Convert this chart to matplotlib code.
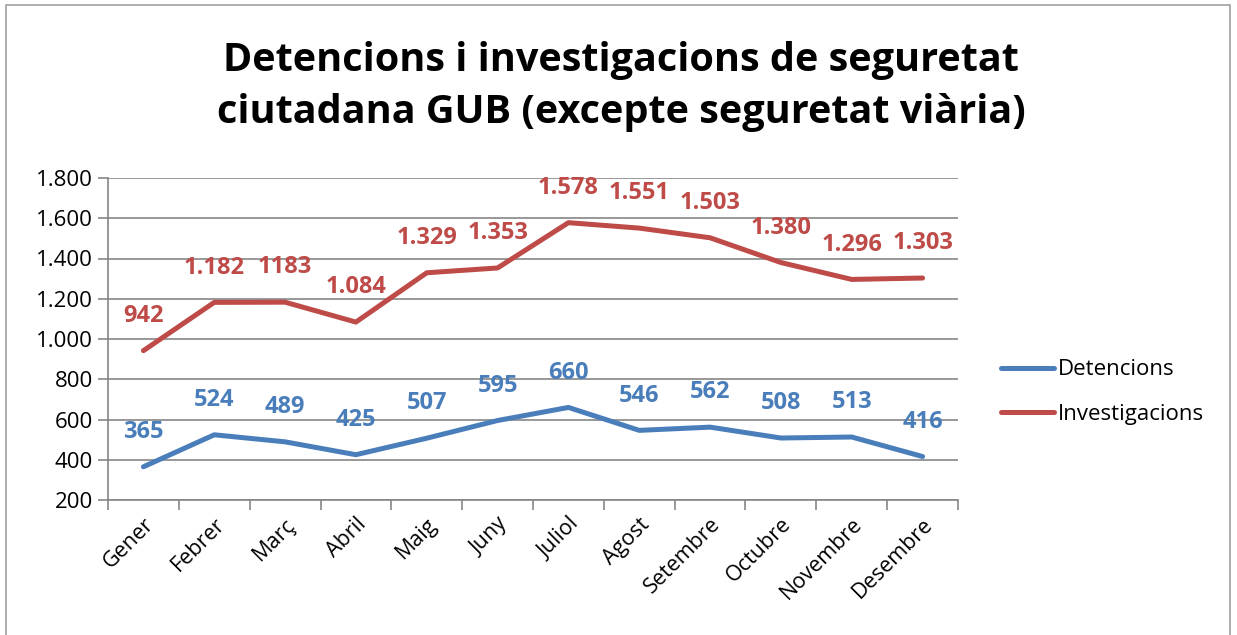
import matplotlib.pyplot as plt
from matplotlib.patches import Rectangle

mesos = ['Gener', 'Febrer', 'Març', 'Abril', 'Maig', 'Juny', 'Juliol',
         'Agost', 'Setembre', 'Octubre', 'Novembre', 'Desembre']
detencions = [365, 524, 489, 425, 507, 595, 660, 546, 562, 508, 513, 416]
investigacions = [942, 1182, 1183, 1084, 1329, 1353, 1578, 1551, 1503, 1380, 1296, 1303]
etiquetes_det = ['365', '524', '489', '425', '507', '595', '660', '546', '562', '508', '513', '416']
etiquetes_inv = ['942', '1.182', '1183', '1.084', '1.329', '1.353', '1.578', '1.551',
                 '1.503', '1.380', '1.296', '1.303']
yticks = [200, 400, 600, 800, 1000, 1200, 1400, 1600, 1800]
ytick_labels = ['200', '400', '600', '800', '1.000', '1.200', '1.400', '1.600', '1.800']

blau = '#4A7EBB'
vermell = '#BE4B48'
gris = '#868686'

plt.rcParams['font.family'] = ['Open Sans', 'DejaVu Sans']

W, H = 1237, 635
fig = plt.figure(figsize=(W / 100, H / 100), dpi=100)
fig.patches.append(Rectangle((6 / W, -0.05), 1224 / W, 1 - 5 / H + 0.05,
                             transform=fig.transFigure, fill=False,
                             edgecolor='#A0A0A0', linewidth=1.2))

ax = fig.add_axes([108 / W, 1 - 500 / H, 850 / W, 322 / H])
x = list(range(len(mesos)))

ax.plot(x, detencions, color=blau, linewidth=3.6, solid_capstyle='round', label='Detencions')
ax.plot(x, investigacions, color=vermell, linewidth=3.6, solid_capstyle='round', label='Investigacions')

for xi, v, t in zip(x, detencions, etiquetes_det):
    ax.annotate(t, (xi, v), xytext=(0, 25), textcoords='offset points',
                ha='center', va='center', color=blau, fontsize=17, fontweight='bold')
for xi, v, t in zip(x, investigacions, etiquetes_inv):
    ax.annotate(t, (xi, v), xytext=(0, 25), textcoords='offset points',
                ha='center', va='center', color=vermell, fontsize=17, fontweight='bold')

ax.set_xlim(-0.5, len(mesos) - 0.5)
ax.set_ylim(200, 1800)
ax.set_yticks(yticks)
ax.set_yticklabels(ytick_labels, fontsize=16)
ax.set_xticks(x)
ax.set_xticklabels(mesos, rotation=45, ha='right', rotation_mode='anchor', fontsize=15.5)
ax.tick_params(axis='x', length=0, pad=10)
ax.set_xticks([i - 0.5 for i in range(len(mesos) + 1)], minor=True)
ax.tick_params(axis='x', which='minor', length=7, color=gris, width=1.2)
ax.tick_params(axis='y', length=7, color=gris, width=1.2, pad=4)

ax.grid(axis='y', color=gris, linewidth=1.2)
ax.set_axisbelow(True)
for s in ['top', 'right']:
    ax.spines[s].set_visible(False)
for s in ['left', 'bottom']:
    ax.spines[s].set_color(gris)
    ax.spines[s].set_linewidth(1.2)

fig.text(621 / W, 1 - 60 / H, 'Detencions i investigacions de seguretat', ha='center', va='center',
         fontsize=28.5, fontweight='bold')
fig.text(621 / W, 1 - 112 / H, 'ciutadana GUB (excepte seguretat viària)', ha='center', va='center',
         fontsize=28.5, fontweight='bold')

fig.legend(loc='center left', bbox_to_anchor=(981 / W, 1 - 392 / H), frameon=False,
           fontsize=16, handlelength=2.4, handletextpad=0.15, labelspacing=1.05)

fig.savefig('out.png', dpi=100)
